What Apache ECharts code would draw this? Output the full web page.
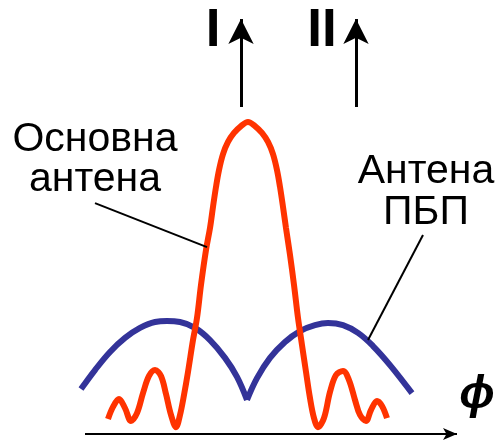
<!DOCTYPE html>
<html>
<head>
<meta charset="utf-8">
<script src="https://cdn.jsdelivr.net/npm/echarts@6/dist/echarts.min.js"></script>
<style>html,body{margin:0;padding:0;background:#fff}#c{width:500px;height:443px}</style>
</head>
<body>
<div id="c"></div>
<script>
// Angle (arbitrary units, 0 = boresight) and relative amplitude (main-lobe peak = 100)
var mainAngle = [-13.9,-13.4,-12.8,-12.2,-11.6,-11.0,-10.4,-9.8,-9.2,-8.6,-8.1,-7.6,-7.1,-6.7,-6.3,-5.9,-5.4,-5.0,-4.6,-4.1,-3.7,-3.4,-3.1,-2.8,-2.4,-1.9,-1.3,-0.6,0.1,0.8,1.5,2.1,2.6,3.0,3.3,3.6,3.9,4.3,4.7,5.1,5.5,5.9,6.3,6.7,7.1,7.7,8.3,8.9,9.6,10.2,10.8,11.3,11.9,12.4,13.0,13.5,14.0];
var mainGain  = [4.8,8.7,11.2,8.3,4.2,6.7,13.1,18.6,20.5,18.6,12.8,6.1,2.2,6.1,12.5,19.9,30.1,37.2,47.8,59.0,66.0,72.8,79.2,84.6,89.7,93.6,96.5,98.7,100,98.7,96.5,93.6,89.7,84.6,79.2,72.8,66.0,57.4,47.8,37.2,28.5,19.9,11.5,5.1,2.2,5.1,13.5,18.9,20.2,17.3,10.9,6.1,4.2,7.7,10.6,9.0,5.1];

var auxAngleL = [-16.6,-15.2,-13.7,-12.2,-10.7,-9.2,-8.0,-6.7,-5.2,-3.7,-2.2,-1.0,0];
var auxGainL  = [14.4,20.5,26.3,30.8,34.0,35.9,36.2,35.9,34.0,30.1,24.4,18.3,10.9];
var auxAngleR = [0,1.0,2.3,3.8,5.3,6.8,8.1,9.6,11.1,12.6,14.3,16.5];
var auxGainR  = [10.9,17.9,24.4,29.5,33.0,34.9,35.6,34.9,32.4,28.2,22.1,13.1];

// annotation anchors (same data units)
var arrowI  = [[-0.6,104.8],[-0.6,133.0]];
var arrowII = [[10.9,104.8],[10.9,133.0]];
var phiAxis = [[-16.2,0],[21.0,0]];
var leaderMain = [[-15.2,74.0],[-4.0,59.9]];
var leaderAux  = [[17.6,63.8],[12.1,30.1]];

var mainData = mainAngle.map(function(a,i){return [a, mainGain[i]];});
var auxData = auxAngleL.map(function(a,i){return [a, auxGainL[i]];})
  .concat([null])
  .concat(auxAngleR.map(function(a,i){return [a, auxGainR[i]];}));

function seg(p, sym, size, w){
  return [{coord:p[0], symbol:'none', lineStyle:{width:w, color:'#000', type:'solid'}},
          {coord:p[1], symbol:sym, symbolSize:size}];
}

var chart = echarts.init(document.getElementById('c'), null, {renderer:'canvas'});
chart.setOption({
  animation:false,
  backgroundColor:'#fff',
  grid:{left:0,right:0,top:0,bottom:9},
  xAxis:{type:'value',min:-24.7,max:25.3,show:false},
  yAxis:{type:'value',min:0,max:139.1,show:false},
  series:[
    {name:'Антена ПБП',type:'line',data:auxData,smooth:0.4,connectNulls:false,showSymbol:false,
     lineStyle:{color:'#333399',width:6},z:2},
    {name:'Основна антена',type:'line',data:mainData,smooth:0.35,showSymbol:false,
     lineStyle:{color:'#FF3300',width:6},z:3},
    {type:'line',data:[],z:4,
     markLine:{silent:true,animation:false,symbol:['none','arrow'],label:{show:false},
       data:[
         seg(arrowI,'arrow',[19,25],3),
         seg(arrowII,'arrow',[19,25],3),
         seg(phiAxis,'arrow',[9,14],2),
         seg(leaderMain,'none',1,2),
         seg(leaderAux,'none',1,2)
       ]}}
  ],
  graphic:[
    {type:'text',x:95,y:140,style:{text:'Основна',font:'41px "Liberation Sans", Arial, sans-serif',fill:'#000',align:'center',verticalAlign:'middle'}},
    {type:'text',x:95,y:180,style:{text:'антена',font:'41px "Liberation Sans", Arial, sans-serif',fill:'#000',align:'center',verticalAlign:'middle'}},
    {type:'text',x:426,y:172,style:{text:'Антена',font:'41px "Liberation Sans", Arial, sans-serif',fill:'#000',align:'center',verticalAlign:'middle'}},
    {type:'text',x:426,y:213,style:{text:'ПБП',font:'41px "Liberation Sans", Arial, sans-serif',fill:'#000',align:'center',verticalAlign:'middle'}},
    {type:'text',x:213,y:31,style:{text:'I',font:'bold 53px "Liberation Sans", Arial, sans-serif',fill:'#000',align:'center',verticalAlign:'middle'}},
    {type:'text',x:322,y:31,style:{text:'II',font:'bold 53px "Liberation Sans", Arial, sans-serif',fill:'#000',align:'center',verticalAlign:'middle'}},
    {type:'text',x:477,y:395,style:{text:'ϕ',font:'italic bold 47px "Liberation Sans", Arial, sans-serif',fill:'#000',align:'center',verticalAlign:'middle'}}
  ]
});
</script>
</body>
</html>
